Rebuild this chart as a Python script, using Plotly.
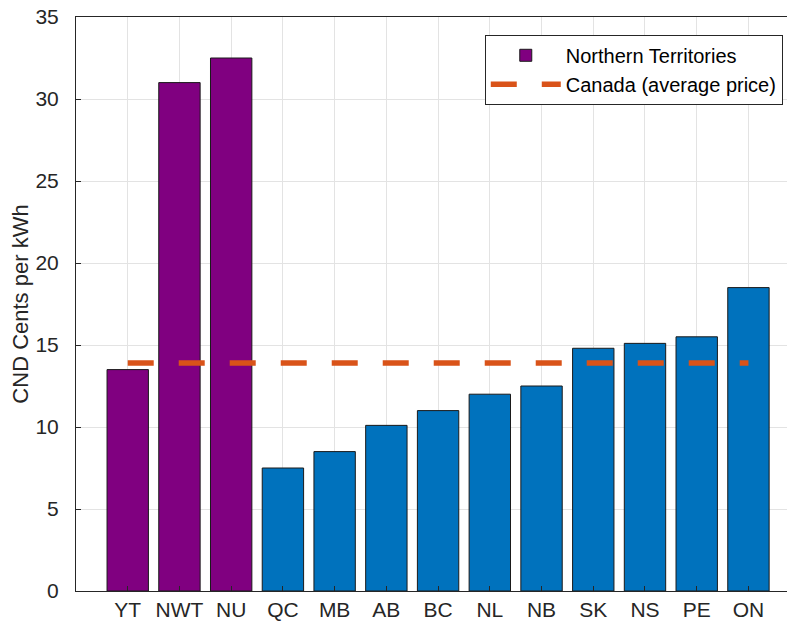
import plotly.graph_objects as go

# Electricity prices by province / territory
regions = ["YT", "NWT", "NU", "QC", "MB", "AB", "BC", "NL", "NB", "SK", "NS", "PE", "ON"]
north = ["YT", "NWT", "NU"]
north_price = [13.5, 31.0, 32.5]
south = ["QC", "MB", "AB", "BC", "NL", "NB", "SK", "NS", "PE", "ON"]
south_price = [7.5, 8.5, 10.1, 11.0, 12.0, 12.5, 14.8, 15.1, 15.5, 18.5]
canada_avg = 13.9

font = "Liberation Sans, Arial, sans-serif"

fig = go.Figure()
fig.add_trace(go.Bar(x=north, y=north_price, name="Northern Territories",
                     marker=dict(color="#800080", line=dict(color="#1a1a1a", width=1)),
                     width=0.8))
fig.add_trace(go.Bar(x=south, y=south_price, showlegend=False,
                     marker=dict(color="#0072BD", line=dict(color="#1a1a1a", width=1)),
                     width=0.8))
fig.add_trace(go.Scatter(x=regions, y=[canada_avg] * len(regions), mode="lines",
                         name="Canada (average price)",
                         line=dict(color="#D95319", width=5.5, dash="26px,25px")))

fig.update_layout(
    width=787, height=618,
    margin=dict(l=68, r=0, t=9, b=35),
    plot_bgcolor="white", paper_bgcolor="white",
    font=dict(family=font, size=21, color="#262626"),
    showlegend=True,
    legend=dict(x=0.983, y=0.969, xanchor="right", yanchor="top",
                bgcolor="white", bordercolor="#262626", borderwidth=1,
                font=dict(size=20, color="#000000"), itemwidth=70),
    xaxis=dict(categoryorder="array", categoryarray=regions, range=[-1, 12.9],
               automargin=False,
               showgrid=True, gridcolor="#e3e3e3", gridwidth=1,
               ticks="inside", ticklen=5, tickcolor="#262626",
               showline=True, linecolor="#262626", mirror=True,
               tickfont=dict(size=21)),
    yaxis=dict(range=[0, 35], dtick=5, showgrid=True, gridcolor="#e3e3e3",
               automargin=False, ticklabeloverflow="allow",
               ticks="inside", ticklen=5, tickcolor="#262626",
               showline=True, linecolor="#262626", mirror=False, zeroline=False,
               ticklabelstandoff=12,
               title=dict(text="CND Cents per kWh", font=dict(size=22), standoff=2),
               tickfont=dict(size=21)),
)

fig.write_html("out.html")
